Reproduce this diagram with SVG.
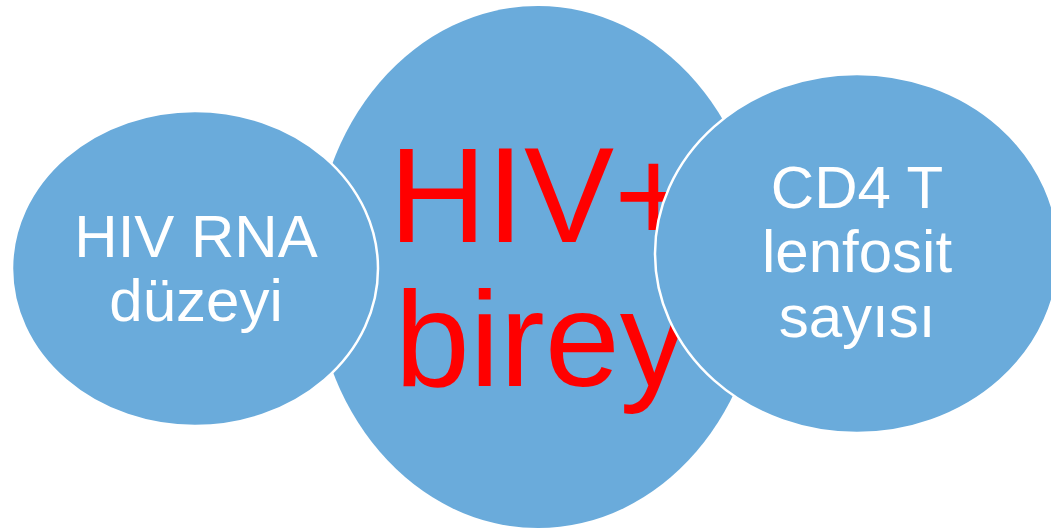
<svg xmlns="http://www.w3.org/2000/svg" width="1051" height="528" viewBox="0 0 1051 528">
<style>
.b{fill:#6aabdb;}
.s{stroke:#ffffff;stroke-width:2.5;}
.w{fill:#ffffff;font-family:"Liberation Sans",Arial,sans-serif;font-size:60px;text-anchor:middle;}
.r{fill:#ff0000;font-family:"Liberation Sans",Arial,sans-serif;font-size:135px;text-anchor:middle;}
</style>
<rect width="1051" height="528" fill="#ffffff"/>
<g id="center">
<ellipse class="b" cx="538" cy="267" rx="224" ry="261"/>
<text class="r" x="541" y="242">HIV+</text>
<text class="r" x="541" y="386">birey</text>
</g>
<g id="left">
<ellipse class="b s" cx="195" cy="268.5" rx="183" ry="157.5"/>
<text class="w" x="196" y="257">HIV RNA</text>
<text class="w" x="196" y="321">düzeyi</text>
</g>
<g id="right">
<ellipse class="b s" cx="857" cy="253.5" rx="202" ry="179.5"/>
<text class="w" x="857" y="208">CD4 T</text>
<text class="w" x="857" y="272">lenfosit</text>
<text class="w" x="857" y="337">sayısı</text>
</g>
<g id="connectors"></g>
</svg>
